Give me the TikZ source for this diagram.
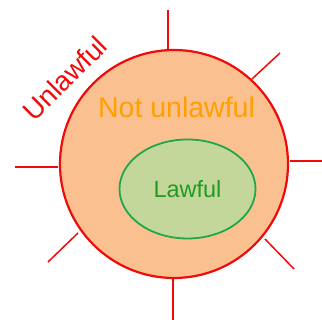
\documentclass[tikz,border=0pt]{standalone}
\usepackage{fontspec}
\setmainfont{Liberation Sans}
\usepackage{xcolor}
\usetikzlibrary{shapes.geometric}

\definecolor{lawred}{HTML}{F00A0A}
\definecolor{peach}{HTML}{FAC090}
\definecolor{notorange}{HTML}{FFA000}
\definecolor{lawgreen}{HTML}{1FA84A}
\definecolor{lawfill}{HTML}{C4D79B}
\definecolor{lawtext}{HTML}{229A22}

\begin{document}
\begin{tikzpicture}[x=1pt, y=1pt,
  spoke/.style={lawred, line width=1.5pt}]
  \useasboundingbox (0,0) rectangle (322,320);

  % Zona "no ilegal"
  \node[circle, draw=lawred, line width=2.2pt, fill=peach, inner sep=0pt,
        minimum size=228pt] (notunlawful) at (174,156) {};

  % Rayos exteriores
  \foreach \ax/\ay/\bx/\by in {168/270/168/310, 252/241/280/267, 290/159/322/159,
                               265/81/294/51, 173/42/173/0, 78/87/48/58, 58/153/15/153}
    \draw[spoke] (\ax,\ay) -- (\bx,\by);

  % Zona legal
  \node[ellipse, draw=lawgreen, line width=1.8pt, fill=lawfill,
        minimum width=136pt, minimum height=99pt,
        text=lawtext, font=\fontsize{23.5}{23.5}\selectfont] (lawful) at (187.5,131) {Lawful};

  % Etiquetas
  \node[anchor=base, text=notorange, font=\fontsize{28.5}{28.5}\selectfont]
    (notlabel) at (176.5,202) {Not unlawful};
  \node[rotate=45, text=lawred, font=\fontsize{27.5}{27.5}\selectfont]
    (unlawful) at (65,241.5) {Unlawful};
\end{tikzpicture}
\end{document}
